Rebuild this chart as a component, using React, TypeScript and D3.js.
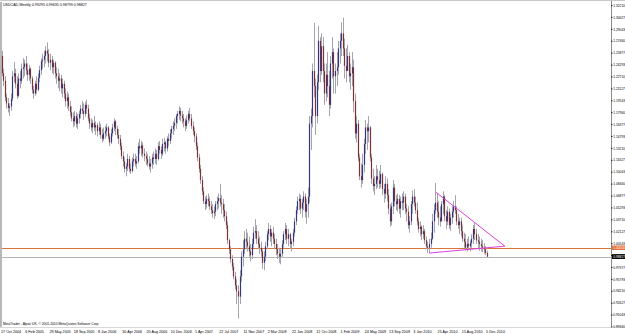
import React from "react";
import * as d3 from "d3";

const W = 625;
const H = 334;

// Weekly USDCAD bars: [high, low, close]; open = previous close
const firstOpen = 1.255;
const bars2004: [number, number, number][] = [
  [1.262,1.228,1.232],[1.238,1.215,1.222],[1.228,1.195,1.200],[1.205,1.185,1.192],[1.199,1.180,1.186],
  [1.192,1.175,1.188],[1.205,1.182,1.198],[1.235,1.195,1.228],[1.247,1.220,1.232],[1.238,1.212,1.218],
  [1.228,1.198,1.202],
];
const bars2005: [number, number, number][] = [
  [1.232,1.200,1.225],[1.235,1.212,1.222],[1.245,1.218,1.238],[1.252,1.225,1.240],[1.250,1.228,1.245],
  [1.255,1.230,1.236],[1.245,1.222,1.230],[1.243,1.222,1.238],[1.240,1.218,1.225],[1.228,1.205,1.210],
  [1.215,1.198,1.205],[1.222,1.202,1.218],[1.228,1.205,1.210],[1.232,1.208,1.226],[1.242,1.220,1.236],
  [1.252,1.230,1.248],[1.258,1.238,1.250],[1.262,1.240,1.255],[1.268,1.245,1.262],[1.273,1.248,1.258],
  [1.264,1.240,1.246],[1.258,1.236,1.250],[1.255,1.232,1.240],[1.250,1.230,1.246],[1.248,1.225,1.232],
  [1.240,1.218,1.228],[1.238,1.212,1.222],[1.232,1.208,1.225],[1.230,1.205,1.212],[1.225,1.200,1.218],
  [1.222,1.198,1.205],[1.212,1.188,1.195],[1.208,1.185,1.200],[1.205,1.182,1.188],[1.195,1.175,1.180],
  [1.188,1.168,1.172],[1.180,1.160,1.168],[1.182,1.162,1.175],[1.180,1.160,1.165],[1.178,1.158,1.172],
  [1.182,1.165,1.178],[1.190,1.172,1.185],[1.195,1.178,1.182],[1.192,1.170,1.178],[1.194,1.174,1.190],
  [1.197,1.178,1.185],[1.190,1.168,1.172],[1.178,1.158,1.165],[1.172,1.155,1.160],[1.170,1.152,1.166],
  [1.175,1.155,1.160],[1.168,1.150,1.163],
];
const bars2006: [number, number, number][] = [
  [1.166,1.148,1.155],[1.168,1.150,1.160],[1.165,1.145,1.150],[1.158,1.140,1.145],[1.160,1.142,1.152],
  [1.162,1.145,1.155],[1.165,1.148,1.160],[1.162,1.144,1.148],[1.152,1.135,1.140],[1.158,1.138,1.152],
  [1.165,1.148,1.160],[1.172,1.155,1.168],[1.170,1.150,1.158],[1.162,1.145,1.150],[1.158,1.138,1.145],
  [1.150,1.130,1.135],[1.140,1.118,1.122],[1.128,1.108,1.115],[1.120,1.100,1.105],[1.112,1.095,1.108],
  [1.125,1.102,1.118],[1.122,1.100,1.105],[1.112,1.098,1.102],[1.120,1.100,1.115],[1.125,1.108,1.118],
  [1.125,1.108,1.112],[1.122,1.105,1.115],[1.140,1.112,1.135],[1.145,1.125,1.132],[1.142,1.122,1.136],
  [1.140,1.120,1.125],[1.132,1.115,1.122],[1.128,1.110,1.118],[1.125,1.108,1.112],[1.122,1.104,1.108],
  [1.118,1.100,1.112],[1.125,1.105,1.120],[1.128,1.110,1.118],[1.132,1.112,1.125],[1.130,1.110,1.118],
  [1.140,1.116,1.135],[1.142,1.125,1.130],[1.135,1.118,1.125],[1.145,1.122,1.138],[1.146,1.128,1.140],
  [1.142,1.125,1.132],[1.148,1.128,1.145],[1.152,1.135,1.142],[1.158,1.138,1.152],[1.162,1.145,1.158],
  [1.168,1.150,1.162],[1.172,1.155,1.166],
];
const bars2007: [number, number, number][] = [
  [1.178,1.158,1.175],[1.182,1.165,1.178],[1.188,1.170,1.182],[1.186,1.168,1.176],[1.182,1.165,1.172],
  [1.178,1.160,1.168],[1.172,1.155,1.162],[1.176,1.158,1.170],[1.182,1.165,1.178],[1.186,1.168,1.172],
  [1.178,1.158,1.162],[1.168,1.150,1.155],[1.160,1.140,1.148],[1.152,1.130,1.135],[1.140,1.115,1.120],
  [1.125,1.100,1.105],[1.110,1.085,1.090],[1.095,1.070,1.075],[1.080,1.058,1.062],[1.068,1.050,1.058],
  [1.070,1.052,1.065],[1.072,1.055,1.062],[1.068,1.050,1.055],[1.062,1.045,1.050],[1.058,1.040,1.046],
  [1.055,1.038,1.048],[1.062,1.042,1.058],[1.068,1.050,1.062],[1.072,1.052,1.066],[1.085,1.055,1.060],
  [1.070,1.045,1.058],[1.065,1.040,1.050],[1.058,1.035,1.042],[1.048,1.025,1.030],[1.035,1.005,1.010],
  [1.012,0.992,0.998],[1.002,0.980,0.985],[0.990,0.970,0.975],[0.980,0.958,0.962],[0.968,0.945,0.950],
  [0.958,0.925,0.942],[0.950,0.906,0.935],[0.970,0.925,0.962],[0.995,0.955,0.988],[1.010,0.975,0.998],
  [1.022,0.992,1.012],[1.025,0.998,1.008],[1.020,0.995,1.002],[1.015,0.988,0.995],[1.005,0.982,0.990],
  [1.012,0.985,1.005],[1.028,1.000,1.020],
];
const bars2008: [number, number, number][] = [
  [1.038,1.012,1.022],[1.030,1.005,1.012],[1.022,0.998,1.005],[1.015,0.992,1.000],[1.008,0.988,0.995],
  [0.998,0.972,0.980],[0.995,0.970,0.988],[1.008,0.982,1.002],[1.022,0.998,1.018],[1.033,1.010,1.025],
  [1.030,1.008,1.015],[1.025,1.002,1.020],[1.028,1.005,1.012],[1.018,0.998,1.005],[1.012,0.990,0.998],
  [1.005,0.985,0.992],[1.000,0.980,0.988],[0.998,0.978,0.992],[1.010,0.988,1.005],[1.022,1.000,1.018],
  [1.033,1.010,1.025],[1.030,1.005,1.012],[1.025,1.002,1.018],[1.020,0.998,1.005],[1.012,0.995,1.008],
  [1.025,1.002,1.020],[1.040,1.015,1.035],[1.055,1.030,1.050],[1.068,1.045,1.062],[1.072,1.050,1.065],
  [1.070,1.045,1.052],[1.065,1.040,1.060],[1.075,1.050,1.068],[1.072,1.040,1.048],[1.065,1.032,1.058],
  [1.080,1.040,1.068],[1.175,1.060,1.165],[1.185,1.130,1.175],[1.245,1.160,1.235],[1.299,1.200,1.215],
  [1.225,1.150,1.175],[1.230,1.165,1.220],[1.295,1.210,1.275],[1.280,1.220,1.235],[1.285,1.230,1.268],
  [1.280,1.220,1.235],[1.245,1.190,1.205],[1.245,1.195,1.230],[1.260,1.200,1.215],
];
const bars2009: [number, number, number][] = [
  [1.235,1.175,1.190],[1.255,1.185,1.245],[1.280,1.225,1.260],[1.265,1.205,1.228],[1.245,1.205,1.235],
  [1.260,1.215,1.240],[1.275,1.230,1.265],[1.285,1.245,1.275],[1.300,1.255,1.285],[1.306,1.255,1.265],
  [1.278,1.225,1.242],[1.265,1.220,1.235],[1.270,1.235,1.255],[1.260,1.220,1.228],[1.245,1.210,1.232],
  [1.260,1.215,1.240],[1.250,1.180,1.195],[1.205,1.145,1.152],[1.175,1.140,1.165],[1.170,1.115,1.120],
  [1.125,1.090,1.095],[1.112,1.080,1.090],[1.125,1.085,1.110],[1.145,1.100,1.138],[1.170,1.125,1.160],
  [1.165,1.130,1.155],[1.175,1.140,1.160],[1.162,1.115,1.120],[1.125,1.085,1.092],[1.105,1.075,1.082],
  [1.095,1.070,1.085],[1.110,1.078,1.095],[1.105,1.080,1.090],[1.102,1.078,1.085],[1.110,1.080,1.098],
  [1.100,1.070,1.078],[1.085,1.060,1.072],[1.095,1.065,1.085],[1.092,1.062,1.070],[1.078,1.045,1.052],
  [1.058,1.028,1.035],[1.060,1.030,1.055],[1.090,1.045,1.080],[1.085,1.055,1.062],[1.070,1.050,1.058],
  [1.072,1.048,1.065],[1.070,1.045,1.052],[1.068,1.040,1.062],[1.072,1.050,1.060],[1.075,1.050,1.068],
  [1.072,1.045,1.052],[1.058,1.035,1.048],
];
const bars2010: [number, number, number][] = [
  [1.055,1.025,1.030],[1.042,1.020,1.035],[1.062,1.030,1.058],[1.076,1.045,1.068],[1.078,1.055,1.060],
  [1.068,1.045,1.050],[1.060,1.030,1.035],[1.040,1.020,1.025],[1.035,1.015,1.028],[1.030,1.010,1.018],
  [1.030,1.012,1.022],[1.025,1.005,1.010],[1.015,0.998,1.002],[1.008,0.993,1.000],[1.012,0.993,1.005],
  [1.020,1.000,1.012],[1.045,1.010,1.035],[1.058,1.020,1.050],[1.086,1.045,1.060],[1.072,1.040,1.048],
  [1.062,1.030,1.040],[1.055,1.028,1.035],[1.062,1.035,1.058],[1.075,1.045,1.068],[1.070,1.035,1.042],
  [1.050,1.025,1.035],[1.055,1.030,1.048],[1.052,1.025,1.030],[1.045,1.022,1.040],[1.055,1.032,1.048],
  [1.062,1.040,1.055],[1.070,1.045,1.050],[1.055,1.030,1.035],[1.045,1.025,1.030],[1.040,1.018,1.035],
  [1.040,1.015,1.022],[1.030,1.008,1.012],[1.020,1.000,1.008],[1.018,0.996,1.000],[1.012,0.995,1.005],
  [1.015,0.998,1.002],[1.010,0.995,1.006],[1.018,1.000,1.012],[1.030,1.005,1.025],[1.033,1.010,1.018],
  [1.025,1.005,1.010],[1.018,0.998,1.008],[1.015,0.996,1.005],[1.012,0.995,1.002],[1.010,0.994,1.000],
  [1.006,0.992,0.998],[1.002,0.990,0.993],[0.996,0.988,0.988],
];

const priceTicks = [
  "1.32210","1.30627","1.29043","1.27460","1.25877","1.24293","1.22710","1.21127","1.19543","1.17960",
  "1.16377","1.14793","1.13210","1.11627","1.10043","1.08460","1.06877","1.05293","1.03710","1.02127",
  "1.00543","0.98960","0.97377","0.95793","0.94210","0.92627","0.91043","0.89460",
];
const dateLabels = [
  "17 Oct 2004","6 Feb 2005","29 May 2005","18 Sep 2005","8 Jan 2006","30 Apr 2006","20 Aug 2006",
  "10 Dec 2006","1 Apr 2007","22 Jul 2007","11 Nov 2007","2 Mar 2008","22 Jun 2008","12 Oct 2008",
  "1 Feb 2009","24 May 2009","13 Sep 2009","3 Jan 2010","25 Apr 2010","15 Aug 2010","5 Dec 2010",
];
const dateLabelStep = 16;
const titleText = "USDCAD,Weekly  0.99295 0.99635 0.98799 0.98827";
const footerText = "MetaTrader - Alpari UK, \u00A9 2001-2010 MetaQuotes Software Corp.";
const levelPrice = 1.0;
const levelLabel = "1.00000";
const bidPrice = 0.98827;
const bidLabel = "0.98827";
const trendUpper: [number, number][] = [[286.6, 1.0738], [332, 1.0021]];
const trendLower: [number, number][] = [[282, 0.9929], [332, 1.0021]];

const FONT = "'Liberation Sans', Arial, sans-serif";
const AXIS_FS = 3.3;

export default function App() {
  const rows = [...bars2004, ...bars2005, ...bars2006, ...bars2007, ...bars2008, ...bars2009, ...bars2010];
  const candles = rows.map((r, i) => ({
    i,
    o: i === 0 ? firstOpen : rows[i - 1][2],
    h: r[0],
    l: r[1],
    c: r[2],
  }));

  const plotRight = 611;
  const x = d3.scaleLinear().domain([0, 320]).range([1.5, 486.6]);
  const tickVals = priceTicks.map(Number);
  const y = d3
    .scaleLinear()
    .domain([d3.min(tickVals) as number, d3.max(tickVals) as number])
    .range([327, 5.5]);

  const line = d3
    .line<[number, number]>()
    .x((d) => x(d[0]))
    .y((d) => y(d[1]));

  return (
    <svg
      width={W}
      height={H}
      style={{ position: "fixed", left: 0, top: 0, background: "#ffffff" }}
    >
      <rect x={0} y={0} width={W} height={H} fill="#ffffff" />
      {/* frame */}
      <line x1={0} x2={W} y1={0.5} y2={0.5} stroke="#c8c8c8" />
      <line x1={1} x2={1} y1={2} y2={327} stroke="#b8b8b8" strokeWidth={2} />
      <line x1={plotRight + 0.5} x2={plotRight + 0.5} y1={1} y2={327} stroke="#8c8c8c" />
      <line x1={0} x2={plotRight} y1={327.5} y2={327.5} stroke="#d8d8d8" />

      {/* horizontal level and bid lines */}
      <line x1={2} x2={plotRight} y1={Math.round(y(levelPrice)) + 0.5} y2={Math.round(y(levelPrice)) + 0.5} stroke="#d9743a" />
      <line x1={2} x2={plotRight} y1={Math.round(y(bidPrice)) + 0.5} y2={Math.round(y(bidPrice)) + 0.5} stroke="#b4b4b4" />

      {/* candles */}
      <g>
        {candles.map((d) => {
          const cx = Math.round(x(d.i)) + 0.5;
          const top = y(Math.max(d.o, d.c));
          const bot = y(Math.min(d.o, d.c));
          const up = d.c >= d.o;
          return (
            <g key={d.i}>
              <line x1={cx} x2={cx} y1={y(d.h)} y2={y(d.l)} stroke="#a4a4ae" strokeWidth={1} />
              <rect
                x={cx - 0.6}
                y={top}
                width={1.2}
                height={Math.max(1, bot - top)}
                fill={up ? "#363680" : "#7a3236"}
              />
            </g>
          );
        })}
      </g>

      {/* trend lines */}
      <path d={line(trendUpper) || ""} fill="none" stroke="#dd3fdd" strokeWidth={1} />
      <path d={line(trendLower) || ""} fill="none" stroke="#dd3fdd" strokeWidth={1} />

      {/* price axis */}
      <g fontFamily={FONT} fontSize={AXIS_FS} fill="#000">
        {priceTicks.map((t, k) => (
          <g key={t}>
            <line x1={plotRight} x2={plotRight + 1.5} y1={y(tickVals[k])} y2={y(tickVals[k])} stroke="#000" strokeWidth={0.8} />
            <text x={613.2} y={y(tickVals[k]) + 1.2}>{t}</text>
          </g>
        ))}
      </g>
      {/* level label */}
      <rect x={612} y={y(levelPrice) - 2.2} width={13} height={4.4} fill="#e06a30" />
      <text x={613.2} y={y(levelPrice) + 1.2} fontFamily={FONT} fontSize={AXIS_FS} fill="#ffffff">{levelLabel}</text>
      {/* bid label */}
      <rect x={612} y={y(bidPrice) - 2.4} width={13} height={4.8} fill="#000000" />
      <text x={613.2} y={y(bidPrice) + 1.2} fontFamily={FONT} fontSize={AXIS_FS} fill="#ffffff">{bidLabel}</text>

      {/* time axis */}
      <g fontFamily={FONT} fontSize={3.7} fill="#000">
        {dateLabels.map((t, k) => (
          <text key={t} x={x(k * dateLabelStep) - 0.5} y={332.5}>{t}</text>
        ))}
      </g>

      {/* title and footer */}
      <text x={3} y={5.5} fontFamily={FONT} fontSize={3.6} fill="#000">{titleText}</text>
      <text x={3} y={324.8} fontFamily={FONT} fontSize={3.3} fill="#000">{footerText}</text>
    </svg>
  );
}
